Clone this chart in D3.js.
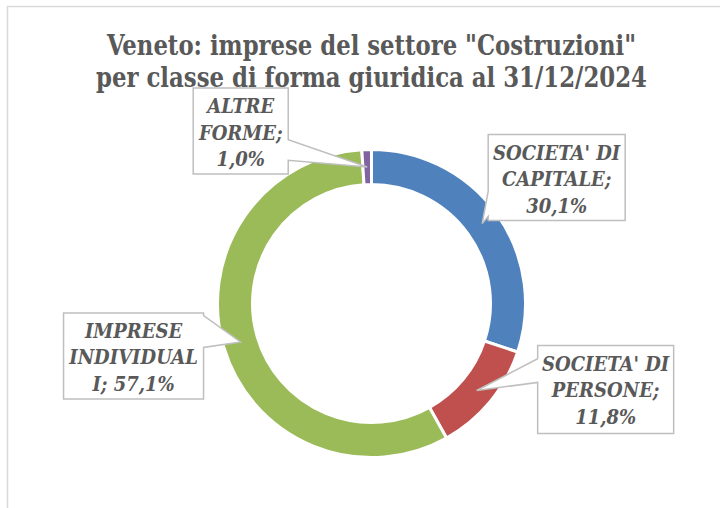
<!DOCTYPE html>
<html>
<head>
<meta charset="utf-8">
<script src="https://cdn.jsdelivr.net/npm/d3@7"></script>
<style>
  body { margin: 0; background: #fff; }
  svg { display: block; }
  text { font-family: "DejaVu Serif Condensed", "DejaVu Serif", "Liberation Serif", serif; fill: #595959; }
</style>
</head>
<body>
<div id="chart"></div>
<script>
const titleLines = ['Veneto: imprese del settore "Costruzioni"', "per classe di forma giuridica al 31/12/2024"]
const categories = ["SOCIETA' DI CAPITALE", "SOCIETA' DI PERSONE", "IMPRESE INDIVIDUALI", "ALTRE FORME"]
const values = [30.1, 11.8, 57.1, 1.0]
const labelLines = [
  ["SOCIETA' DI", "CAPITALE;", "30,1%"],
  ["SOCIETA' DI", "PERSONE;", "11,8%"],
  ["IMPRESE", "INDIVIDUAL", "I; 57,1%"],
  ["ALTRE", "FORME;", "1,0%"]
]
const colors = ["#4f81bd", "#c0504d", "#9bbb59", "#8064a2"]

// label boxes, relative to the slice centroid (callout tip)
const labelLayout = [
  { dx: 6, dy: -89, w: 137, h: 86, side: "left", b0: 0.66, b1: 0.95 },
  { dx: 61, dy: -45, w: 136, h: 88, side: "left", b0: 0.15, b1: 0.42 },
  { dx: -177, dy: -29, w: 140, h: 86, side: "right", b0: 0.03, b1: 0.4 },
  { dx: -174, dy: -79, w: 95, h: 86, side: "right", b0: 0.6, b1: 0.84 }
]

const width = 720
const height = 508
const cx = 371.5, cy = 303.5
const outerR = 154, innerR = 119

const svg = d3.select("#chart")
  .append("svg")
    .attr("width", width)
    .attr("height", height)

// chart area border
svg.append("rect")
  .attr("x", 7.5).attr("y", 6.5)
  .attr("width", 760).attr("height", 560)
  .attr("fill", "none")
  .attr("stroke", "#d9d9d9")
  .attr("stroke-width", 1.5)

svg.selectAll(".title")
  .data(titleLines)
  .join("text")
    .attr("class", "title")
    .attr("x", cx)
    .attr("y", (d, i) => 55 + i * 32)
    .attr("text-anchor", "middle")
    .attr("textLength", (d, i) => i == 0 ? 529 : 551)
    .attr("lengthAdjust", "spacingAndGlyphs")
    .style("font-size", "28px")
    .style("font-weight", "bold")
    .text(d => d)

const data = categories.map((c, i) => ({ name: c, value: values[i], lines: labelLines[i], color: colors[i], lay: labelLayout[i] }))

const pie = d3.pie().sort(null).value(d => d.value)
const arc = d3.arc().innerRadius(innerR).outerRadius(outerR)
const arcs = pie(data)

const g = svg.append("g").attr("transform", `translate(${cx},${cy})`)
g.selectAll("path")
  .data(arcs)
  .join("path")
    .attr("d", arc)
    .attr("fill", d => d.data.color)
    .attr("stroke", "#fff")
    .attr("stroke-width", 3)

function calloutPath(x, y, w, h, l, tx, ty) {
  const p = d3.path()
  if (l.side == "left") {
    p.moveTo(x, y)
    p.lineTo(x + w, y)
    p.lineTo(x + w, y + h)
    p.lineTo(x, y + h)
    p.lineTo(x, y + h * l.b1)
    p.lineTo(tx, ty)
    p.lineTo(x, y + h * l.b0)
    p.closePath()
  } else {
    p.moveTo(x, y)
    p.lineTo(x + w, y)
    p.lineTo(x + w, y + h * l.b0)
    p.lineTo(tx, ty)
    p.lineTo(x + w, y + h * l.b1)
    p.lineTo(x + w, y + h)
    p.lineTo(x, y + h)
    p.closePath()
  }
  return p.toString()
}

const labels = svg.append("g")
  .selectAll("g")
  .data(arcs)
  .join("g")

labels.each(function(d) {
  const c = arc.centroid(d)
  const tx = cx + c[0], ty = cy + c[1]
  const l = d.data.lay
  const x = tx + l.dx, y = ty + l.dy
  const sel = d3.select(this)
  sel.append("path")
    .attr("d", calloutPath(x, y, l.w, l.h, l, tx, ty))
    .attr("fill", "#fff")
    .attr("stroke", "#bfbfbf")
    .attr("stroke-width", 1.5)
  sel.selectAll("text")
    .data(d.data.lines)
    .join("text")
      .attr("x", x + l.w / 2)
      .attr("y", (t, i) => y + 25 + i * 26.5)
      .attr("text-anchor", "middle")
      .style("font-size", "20px")
      .style("font-weight", "bold")
      .style("font-style", "italic")
      .text(t => t)
})
</script>
</body>
</html>
